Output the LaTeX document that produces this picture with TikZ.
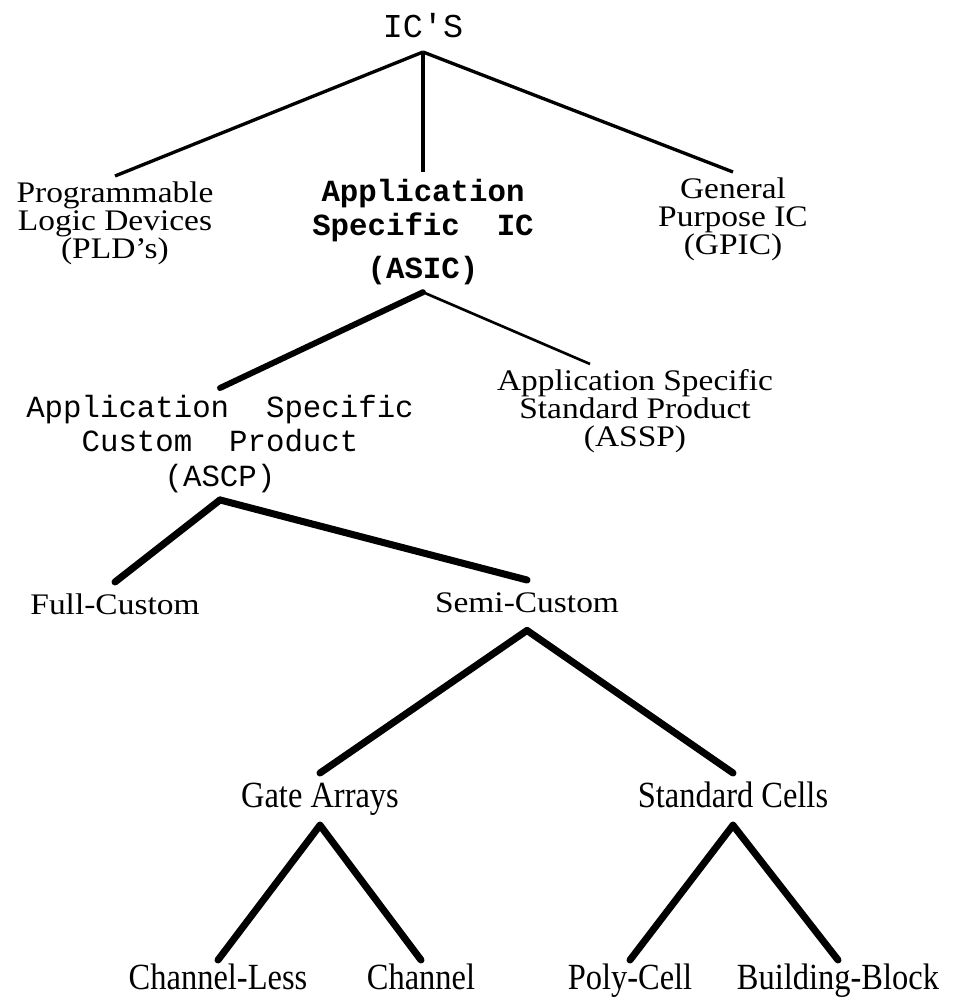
\documentclass[tikz,border=0pt]{standalone}
\usepackage{fontspec}
\setmainfont{Liberation Serif}[FakeStretch=1.12]
\setmonofont{Liberation Mono}
\newfontfamily\narrowserif{Liberation Serif}[FakeStretch=0.88]
\usetikzlibrary{positioning}
\tikzset{
  category/.style={align=center,inner xsep=2pt,inner ysep=3pt,font=\fontsize{17}{16}\selectfont},
  onelabel/.style={category,inner ysep=6.3pt,text height=12pt,text depth=3.7pt},
  typed/.style={align=center,inner xsep=2pt,inner ysep=4pt,font=\fontsize{17.5}{19.5}\selectfont\ttfamily},
  typedbold/.style={typed,font=\fontsize{17.5}{19.5}\selectfont\ttfamily\bfseries},
  leaf/.style={inner xsep=2pt,inner ysep=5pt,text height=14.7pt,text depth=4.6pt,font=\fontsize{21}{21}\selectfont\narrowserif},
  bottomleaf/.style={leaf,inner ysep=2pt},
  thinbranch/.style={line width=1.9pt},
  thickbranch/.style={line width=4pt,line cap=round},
}

\begin{document}
\begin{tikzpicture}[x=0.02cm,y=-0.02cm]
	    \useasboundingbox (0,0) rectangle (959,1007);
	    \node[typed,anchor=south,inner ysep=8pt,font=\fontsize{19}{19}\selectfont\ttfamily] (ics) at (423,52) {IC'S};
	    \node[category,anchor=north] (pld) at (115,176) {Programmable\\Logic Devices\\(PLD's)};
	    \node[typedbold,anchor=north] (asic) at (423,172) {Application\\Specific\ \ IC\\[4.7pt](ASIC)};
	    \node[category,anchor=north] (gpic) at (733,172) {General\\Purpose IC\\(GPIC)};
	    \node[typed,anchor=north] (ascp) at (220,388) {Application\ \ Specific\\Custom\ \ Product\\(ASCP)};
	    \node[category,anchor=north] (assp) at (635,364) {Application Specific\\Standard Product\\(ASSP)};
	    \node[onelabel,anchor=north] (full) at (115,582) {Full-Custom};
	    \node[onelabel,anchor=north] (semi) at (527,580) {Semi-Custom};
	    \node[leaf,anchor=north] (gate) at (320,773) {Gate Arrays};
	    \node[leaf,anchor=north] (std) at (733,773) {Standard Cells};
	    \node[bottomleaf,anchor=north] (chless) at (218,960) {Channel-Less};
	    \node[bottomleaf,anchor=north] (chan) at (421,960) {Channel};
	    \node[bottomleaf,anchor=north] (poly) at (630,960) {Poly-Cell};
	    \node[bottomleaf,anchor=north] (bblock) at (838,960) {Building-Block};
	    % IC's
	    \draw[thinbranch] (ics.south) -- (pld.north);
	    \draw[thinbranch,line width=2.2pt] (ics.south) -- (asic.north);
	    \draw[thinbranch] (ics.south) -- (gpic.north);
	    % ASIC
	    \draw[thickbranch,line width=3.4pt] (asic.south) -- (ascp.north);
	    \draw[thinbranch,line width=1.5pt] (asic.south) -- ([xshift=-0.9cm]assp.north);
	    % ASCP
	    \draw[thickbranch] (ascp.south) -- (full.north);
	    \draw[thickbranch] (ascp.south) -- (semi.north);
	    % semi-custom
	    \draw[thickbranch] (semi.south) -- (gate.north);
	    \draw[thickbranch] (semi.south) -- (std.north);
	    \draw[thickbranch] (gate.south) -- (chless.north);
	    \draw[thickbranch] (gate.south) -- (chan.north);
	    \draw[thickbranch] (std.south) -- (poly.north);
	    \draw[thickbranch] (std.south) -- (bblock.north);
	\end{tikzpicture}
\end{document}
